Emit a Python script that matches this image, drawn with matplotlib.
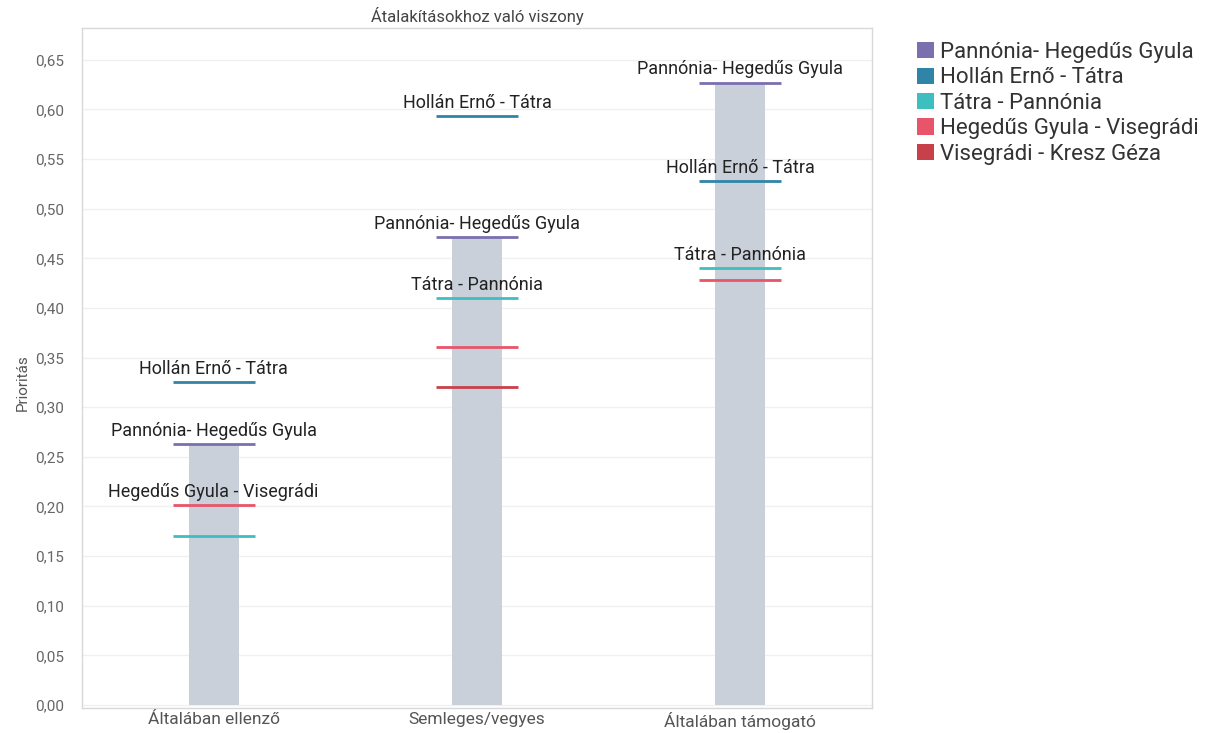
import numpy as np
import matplotlib
matplotlib.use('Agg')
import matplotlib.pyplot as plt
from matplotlib.patches import Patch

plt.rcParams['font.family'] = ['Roboto', 'DejaVu Sans']

categories = ['Általában ellenző', 'Semleges/vegyes', 'Általában támogató']
bar_values = [0.263, 0.471, 0.627]

series_names = ['Pannónia- Hegedűs Gyula', 'Hollán Ernő - Tátra', 'Tátra - Pannónia',
                'Hegedűs Gyula - Visegrádi', 'Visegrádi - Kresz Géza']
series_colors = ['#7b6fb0', '#2f84a8', '#3dbfbf', '#e8546a', '#c8404a']

pannonia = [0.263, 0.471, 0.627]
hollan = [0.325, 0.593, 0.528]
tatra = [0.170, 0.410, 0.440]
hegedus = [0.201, 0.361, 0.428]
visegradi = [np.nan, 0.320, np.nan]

# which lines got a text label (others were hidden to avoid overlap)
show_label = [
    [True, True, True],     # Pannónia
    [True, True, True],     # Hollán
    [False, True, True],    # Tátra
    [True, False, False],   # Hegedűs
    [False, False, False],  # Visegrádi
]

yticks = np.arange(0, 0.651, 0.05)


def main():
    fig = plt.figure(figsize=(12.06, 7.33), dpi=100)
    ax = fig.add_axes([82 / 1206, 25 / 733, 790 / 1206, 680 / 733])

    x = np.arange(len(categories))
    ax.bar(x, bar_values, width=0.19, color='#c9d0da', zorder=1)

    series = [pannonia, hollan, tatra, hegedus, visegradi]
    half = 0.156
    for vals, name, col, flags in zip(series, series_names, series_colors, show_label):
        for i, v in enumerate(vals):
            if np.isnan(v):
                continue
            ax.plot([i - half, i + half], [v, v], color=col, lw=2, zorder=3,
                    solid_capstyle='butt')
            if flags[i]:
                ax.annotate(name, (i, v), xytext=(0, 3), textcoords='offset points',
                            ha='center', va='bottom', fontsize=13, color='#222222',
                            zorder=4)

    ax.set_xlim(-0.5, 2.5)
    ax.set_ylim(-0.003, 0.682)
    ax.set_yticks(yticks)
    ax.set_yticklabels([f"{t:.2f}".replace('.', ',') for t in yticks],
                       fontsize=11, color='#666666')
    ax.set_xticks(x)
    ax.set_xticklabels(categories, fontsize=12.5, color='#555555')
    ax.tick_params(axis='y', length=0, pad=13)
    ax.tick_params(axis='x', length=0, pad=3)
    ax.grid(axis='y', color='#f0f0f0', lw=1, zorder=0)
    ax.set_axisbelow(True)
    for s in ax.spines.values():
        s.set_color('#d8d8d8')
        s.set_linewidth(1)

    ax.set_ylabel('Prioritás', fontsize=11, color='#555555')
    ax.yaxis.set_label_coords(-0.066, 0.478)
    ax.set_title('Átalakításokhoz való viszony', fontsize=12, color='#444444', pad=4)

    handles = [Patch(facecolor=c, edgecolor='none') for c in series_colors]
    fig.legend(handles, series_names, loc='upper left',
               bbox_to_anchor=(897 / 1206, 1 - 22 / 733), frameon=False,
               fontsize=16, handlelength=0.75, handleheight=0.75,
               handletextpad=0.3, labelspacing=0.2, labelcolor='#333333')

    fig.savefig('out.png', dpi=100)
    plt.close(fig)


if __name__ == "__main__":
    main()
